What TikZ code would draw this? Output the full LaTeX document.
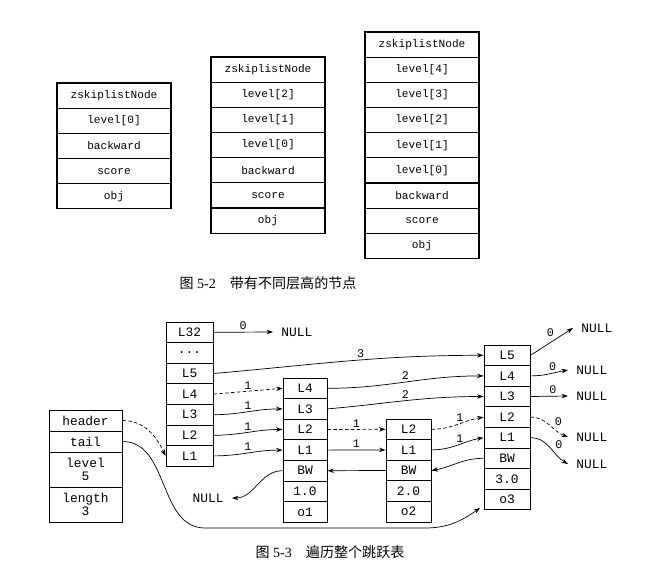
\documentclass[tikz,border=0pt]{standalone}
\usepackage{fontspec}
\setmainfont{Liberation Serif}
\setmonofont{Liberation Mono}
\newfontfamily\cjk{Noto Sans CJK SC}
\usetikzlibrary{arrows.meta}

\newcommand\lvdots{...}
\tikzset{
  fld/.style={draw,line width=1pt,minimum width=3.42cm,minimum height=0.755cm,inner sep=0pt,font=\ttfamily\fontsize{9.5}{10}\selectfont},
  cell/.style={draw,line width=0.8pt,minimum height=0.618cm,inner sep=0pt,font=\ttfamily\fontsize{11}{11}\selectfont},
  nul/.style={inner xsep=7pt,inner ysep=1pt,font=\ttfamily\fontsize{11}{11}\selectfont},
  lab/.style={font=\ttfamily\fontsize{10}{10}\selectfont,inner sep=1.5pt},
  lnk/.style={->,line width=0.6pt},
  dsh/.style={dash pattern=on 3pt off 2pt},
}

\begin{document}
\begin{tikzpicture}[x=0.03cm,y=-0.03cm,>={Stealth[length=5.5pt,width=3.8pt]}]
  \useasboundingbox (0,0) rectangle (645,578);
  % nodes of different heights
  \foreach \t [count=\i] in {zskiplistNode,level[0],backward,score,obj}
    \node[fld] (a\i) at (114,{95.6+25.17*(\i-1)}) {\t};
  \foreach \t [count=\i] in {zskiplistNode,level[2],level[1],level[0],backward,score,obj}
    \node[fld] (b\i) at (268,{69.6+25.17*(\i-1)}) {\t};
  \foreach \t [count=\i] in {zskiplistNode,level[4],level[3],level[2],level[1],level[0],backward,score,obj}
    \node[fld] (c\i) at (422,{44.5+25.17*(\i-1)}) {\t};
  \node[font=\fontsize{12}{12}\selectfont] (cap1) at (268,283) {{\cjk 图} 5-2\quad{\cjk 带有不同层高的节点}};

  % zskiplist structure
  \node[cell,minimum width=2.19cm,minimum height=0.63cm] (st-hd) at (85.5,420.5) {header};
  \node[cell,minimum width=2.19cm,minimum height=0.63cm] (st-tl) at (85.5,441.5) {tail};
  \node[cell,minimum width=2.19cm,minimum height=1.05cm,align=center] (st-lv) at (85.5,469.5) {level\\5};
  \node[cell,minimum width=2.19cm,minimum height=1.05cm,align=center] (st-ln) at (85.5,504.5) {length\\3};

  % header node and list nodes
  \foreach \n/\t [count=\i] in {l32/L32,dots/\lvdots,l5/L5,l4/L4,l3/L3,l2/L2,l1/L1}
    \node[cell,minimum width=1.41cm] (hd-\n) at (189.5,{332.3+20.6*(\i-1)}) {\t};
  \foreach \n/\t [count=\i] in {l4/L4,l3/L3,l2/L2,l1/L1,bw/BW,sc/1.0,ob/o1}
    \node[cell,minimum width=1.32cm] (o1-\n) at (305,{388.3+20.6*(\i-1)}) {\t};
  \foreach \n/\t [count=\i] in {l2/L2,l1/L1,bw/BW,sc/2.0,ob/o2}
    \node[cell,minimum width=1.35cm] (o2-\n) at (408.5,{429.3+20.6*(\i-1)}) {\t};
  \foreach \n/\t [count=\i] in {l5/L5,l4/L4,l3/L3,l2/L2,l1/L1,bw/BW,sc/3.0,ob/o3}
    \node[cell,minimum width=1.38cm] (o3-\n) at (507,{355.3+20.6*(\i-1)}) {\t};

  % NULL ends
  \node[nul,anchor=west] (n0) at (273,332) {NULL};
  \node[nul,anchor=east] (nb) at (232,498) {NULL};
  \node[nul,anchor=west] (n5) at (573,328) {NULL};
  \node[nul,anchor=west] (n4) at (568,370) {NULL};
  \node[nul,anchor=west] (n3) at (568,396) {NULL};
  \node[nul,anchor=west] (n2) at (568,437) {NULL};
  \node[nul,anchor=west] (n1) at (568,464) {NULL};

  % forward pointers
  \draw[lnk] (hd-l32.east) -- node[lab,above]{0} (n0.west);
  \draw[lnk] (hd-l5.east) to[out=5,in=180] node[lab,pos=0.55,above]{3} (o3-l5.west);
  \draw[lnk,dsh] (hd-l4.east) -- node[lab,above]{1} (o1-l4.west);
  \foreach \n in {l3,l2,l1}
    \draw[lnk] (hd-\n.east) to[out=0,in=180] node[lab,midway,above]{1} (o1-\n.west);
  \draw[lnk] (o1-l4.east) to[out=0,in=180] node[lab,pos=0.5,above]{2} (o3-l4.west);
  \draw[lnk] (o1-l3.east) to[out=5,in=180] node[lab,pos=0.5,above]{2} (o3-l3.west);
  \draw[lnk,dsh] (o1-l2.east) -- node[lab,above]{1} (o2-l2.west);
  \draw[lnk] (o1-l1.east) -- node[lab,above]{1} (o2-l1.west);
  \draw[lnk,dsh] (o2-l2.east) to[out=0,in=190] node[lab,pos=0.55,above]{1} (o3-l2.west);
  \draw[lnk] (o2-l1.east) to[out=0,in=190] node[lab,pos=0.55,above]{1} (o3-l1.west);
  \draw[lnk] (o3-l5.east) -- node[lab,pos=0.6,above left]{0} (n5.west);
  \draw[lnk] (o3-l4.east) to[out=0,in=190] node[lab,pos=0.6,above]{0} (n4.west);
  \draw[lnk] (o3-l3.east) -- node[lab,pos=0.6,above]{0} (n3.west);
  \draw[lnk,dsh] (o3-l2.east) to[out=0,in=160] node[lab,pos=0.6,above right]{0} (n2.west);
  \draw[lnk] (o3-l1.east) to[out=0,in=150] node[lab,pos=0.6,above right]{0} (n1.west);

  % backward pointers
  \draw[lnk] (o3-bw.west) to[out=180,in=10] (o2-bw.east);
  \draw[lnk] (o2-bw.west) -- (o1-bw.east);
  \draw[lnk] (o1-bw.west) to[out=180,in=0] (nb.east);

  % header and tail
  \draw[lnk,dsh] (st-hd.east) to[out=0,in=115] (hd-l1.west);
  \draw[lnk] (st-tl.east) to[out=0,in=180] (205,528) -- (425,528)
    to[out=0,in=215] ([xshift=-3pt,yshift=2pt]o3-ob.south west);
  \node[font=\fontsize{12}{12}\selectfont] (cap2) at (330,552) {{\cjk 图} 5-3\quad{\cjk 遍历整个跳跃表}};
\end{tikzpicture}
\end{document}
